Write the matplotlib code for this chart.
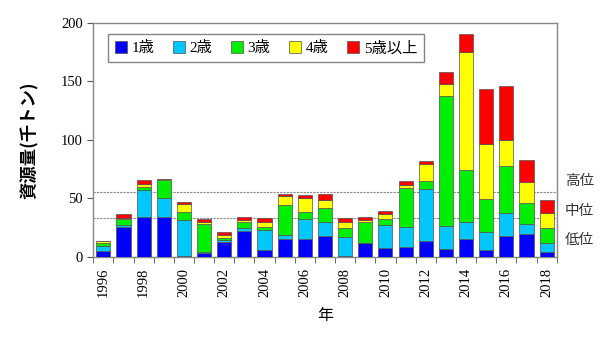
import matplotlib
matplotlib.use("Agg")
import matplotlib.pyplot as plt
import numpy as np

years = list(range(1996, 2019))
age1 = [5.0, 25.5, 34.2, 34.2, 0.8, 3.2, 12.3, 22.3, 5.5, 14.9, 14.9, 17.7,
        0.5, 11.5, 7.7, 8.0, 13.7, 6.3, 15.2, 5.7, 17.7, 19.4, 4.3]
age2 = [4.0, 1.5, 23.2, 16.3, 30.6, 1.1, 2.3, 2.0, 17.4, 3.7, 17.6, 12.0,
        16.5, 0.5, 19.4, 17.2, 44.0, 20.0, 14.8, 15.7, 19.5, 8.6, 7.7]
age3 = [3.0, 5.0, 2.0, 15.0, 7.0, 24.0, 1.2, 5.7, 2.8, 25.7, 6.0, 11.7,
        7.8, 17.4, 4.9, 34.0, 7.4, 111.3, 44.2, 28.0, 40.5, 17.7, 12.3]
age4 = [1.2, 1.2, 3.0, 1.0, 6.7, 1.7, 2.8, 1.4, 4.3, 7.7, 12.0, 7.4,
        5.1, 2.3, 4.3, 2.3, 14.0, 10.0, 100.8, 46.8, 22.2, 18.0, 12.9]
age5 = [0.5, 3.0, 3.5, 0.0, 1.5, 2.3, 2.3, 2.8, 2.9, 1.7, 2.3, 5.1,
        2.9, 2.3, 3.1, 3.6, 3.1, 10.8, 15.7, 47.4, 46.5, 19.1, 11.3]

series_labels = ["1歳", "2歳", "3歳", "4歳", "5歳以上"]
series_colors = ["#0000FF", "#00C8FF", "#00EE00", "#FFFF00", "#FF0000"]

level_high = 55.6
level_mid = 33.0
level_labels = ["高位", "中位", "低位"]
level_label_y = [64.2, 38.5, 14.3]

serif = ["Liberation Serif", "Noto Sans CJK JP"]

fig = plt.figure(figsize=(6.0, 3.43), dpi=100)
ax = fig.add_axes([0.1555, 0.2516, 0.7723, 0.6811])

x = np.arange(len(years))
bottom = np.zeros(len(years))
handles = []
for vals, lab, col in zip([age1, age2, age3, age4, age5], series_labels, series_colors):
    v = np.array(vals)
    h = ax.bar(x, v, bottom=bottom, width=0.7, color=col, edgecolor="#505050",
               linewidth=0.5, label=lab, zorder=3)
    handles.append(h)
    bottom += v

for lvl in (level_high, level_mid):
    ax.axhline(lvl, color="#888888", linestyle=(0, (2, 1)), linewidth=0.8, zorder=2)

ax.set_xlim(-0.5, len(years) - 0.5)
ax.set_ylim(0, 200)
ax.set_yticks([0, 50, 100, 150, 200])
ax.set_yticklabels(["0", "50", "100", "150", "200"], family=serif, fontsize=10.5)

ax.set_xticks(x[::2])
ax.set_xticklabels([str(y) for y in years[::2]], rotation=90, family=serif, fontsize=10.5)
ax.set_xticks(np.arange(-0.5, len(years), 1.0), minor=True)
ax.tick_params(axis="x", which="major", length=0, pad=8)
ax.tick_params(axis="x", which="minor", length=4, direction="out", color="#555555")
ax.tick_params(axis="y", length=4, direction="out", color="#555555")

for sp in ax.spines.values():
    sp.set_color("#888888")
    sp.set_linewidth(1.0)

ax.set_xlabel("年", family=serif, fontsize=11.5, labelpad=8)
ax.set_ylabel("資源量(千トン)", family=["Noto Sans CJK JP"], fontweight="bold",
              fontsize=12.5, labelpad=16)

# stock level labels on the right side
for lab, yv in zip(level_labels, level_label_y):
    ax.text(1.018, yv, lab, transform=ax.get_yaxis_transform(),
            ha="left", va="center", family=serif, fontsize=10.5, color="#333333")

leg = ax.legend(handles=handles, labels=series_labels, loc="upper left",
                bbox_to_anchor=(0.015, 0.985), ncol=5, frameon=True, fancybox=False,
                edgecolor="#666666", handlelength=0.8, handleheight=0.8,
                handletextpad=0.3, columnspacing=1.2, borderpad=0.45,
                prop={"family": serif, "size": 11})
leg.get_frame().set_linewidth(1.0)

fig.savefig("out.png", dpi=100)
